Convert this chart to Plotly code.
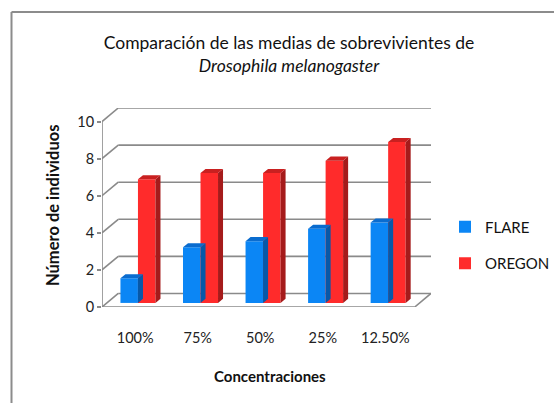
import plotly.graph_objects as go

categories = ["100%", "75%", "50%", "25%", "12.50%"]
flare = [1.33, 3.0, 3.33, 4.0, 4.33]
oregon = [6.67, 7.0, 7.0, 7.67, 8.67]
y_ticks = [0, 2, 4, 6, 8, 10]

# layout constants (pixels)
W, H = 554, 403
L, R, T, B = 102, 123, 108, 96
DX, DY = 0.26, 0.73        # depth of the 3D box in data units
BDX, BDY = 0.08, 0.22      # depth of each bar
BOFF_X, BOFF_Y = 0.075, 0.22  # bars' front plane offset
BW = 0.28

BLUE, BLUE_TOP, BLUE_SIDE = "#0B86F5", "#0A6CCF", "#0758A8"
RED, RED_TOP, RED_SIDE = "#FF2B2B", "#C92020", "#A51B1B"
GRID = "#8a8a8a"
FONT = "Lato"

fig = go.Figure()

def faces(vals, shift):
    sx, sy, tx, ty = [], [], [], []
    for i, v in enumerate(vals):
        xl = i + shift - BW / 2 + BOFF_X
        xr = xl + BW
        b = BOFF_Y
        t = b + v
        sx += [xr, xr, xr + BDX, xr + BDX, xr, None]
        sy += [b, t, t + BDY, b + BDY, b, None]
        tx += [xl, xr, xr + BDX, xl + BDX, xl, None]
        ty += [t, t, t + BDY, t + BDY, t, None]
    return sx, sy, tx, ty

for vals, shift, top, side in [(flare, -0.14, BLUE_TOP, BLUE_SIDE), (oregon, 0.14, RED_TOP, RED_SIDE)]:
    sx, sy, tx, ty = faces(vals, shift)
    fig.add_trace(go.Scatter(x=sx, y=sy, fill="toself", fillcolor=side, mode="lines",
                             line=dict(width=0, color=side), showlegend=False, hoverinfo="skip"))
    fig.add_trace(go.Scatter(x=tx, y=ty, fill="toself", fillcolor=top, mode="lines",
                             line=dict(width=0, color=top), showlegend=False, hoverinfo="skip"))

xs = list(range(len(categories)))
fig.add_trace(go.Bar(x=[i - 0.14 + BOFF_X for i in xs], y=flare, base=BOFF_Y, width=BW,
                     marker=dict(color=BLUE, line=dict(width=0)), name="FLARE", legendgroup="a"))
fig.add_trace(go.Bar(x=[i + 0.14 + BOFF_X for i in xs], y=oregon, base=BOFF_Y, width=BW,
                     marker=dict(color=RED, line=dict(width=0)), name="OREGON", legendgroup="b"))

x0, x1 = -0.5, len(categories) - 0.5
shapes = []
for k in y_ticks:
    shapes.append(dict(type="line", xref="x", yref="y", x0=x0 + DX, x1=x1 + DX, y0=k + DY, y1=k + DY,
                       line=dict(color=GRID, width=1.6), layer="below"))
    shapes.append(dict(type="line", xref="x", yref="y", x0=x0, x1=x0 + DX, y0=k, y1=k + DY,
                       line=dict(color=GRID, width=1.6), layer="below"))
shapes.append(dict(type="line", xref="x", yref="y", x0=x0, x1=x1, y0=0, y1=0,
                   line=dict(color=GRID, width=1.6), layer="below"))
shapes.append(dict(type="line", xref="x", yref="y", x0=x1, x1=x1 + DX, y0=0, y1=DY,
                   line=dict(color=GRID, width=1.6), layer="below"))
shapes.append(dict(type="line", xref="x", yref="y", x0=x0, x1=x0, y0=0, y1=10,
                   line=dict(color=GRID, width=1.6), layer="below"))
# outer chart border (left and top, the rest lies outside the picture)
pw, ph = W - L - R, H - T - B
bx = (11.5 - L) / pw
by = 1 + (T - 12) / ph
shapes.append(dict(type="line", xref="paper", yref="paper", x0=bx, x1=bx,
                   y0=by, y1=-(B + 20) / ph,
                   line=dict(color="#8c8c8c", width=2), layer="above"))
shapes.append(dict(type="line", xref="paper", yref="paper", x0=bx, x1=(W + 20 - L) / pw,
                   y0=by, y1=by,
                   line=dict(color="#8c8c8c", width=2), layer="above"))

annotations = [
    dict(text="<b>Número de individuos</b>", xref="paper", yref="paper",
         x=(53 - L) / pw, y=1 - (206 - T) / ph, xanchor="center", yanchor="middle",
         textangle=-90, showarrow=False,
         font=dict(family=FONT, size=16.5, color="#111")),
    dict(text="<b>Concentraciones</b>", xref="paper", yref="paper",
         x=(270 - L) / pw, y=1 - (376 - T) / ph, xanchor="center", yanchor="middle",
         showarrow=False,
         font=dict(family=FONT, size=15, color="#111")),
]

fig.update_layout(
    width=W, height=H, autosize=False, margin=dict(l=L, r=R, t=T, b=B, autoexpand=False),
    paper_bgcolor="white", plot_bgcolor="white",
    barmode="overlay",
    title=dict(text="Comparación de las medias de sobrevivientes de<br><i>Drosophila melanogaster</i>",
               x=289 / W, xanchor="center", y=1 - 49 / H, yanchor="top",
               font=dict(family=FONT, size=17.5, color="#111")),
    xaxis=dict(range=[x0, x1 + DX], tickvals=[i + 0.03 for i in xs], ticktext=categories,
               showgrid=False, zeroline=False, showline=False, ticks="", ticklabelstandoff=20,
               automargin=False,
               tickfont=dict(family=FONT, size=14.5, color="#222"), fixedrange=True),
    yaxis=dict(range=[0, 10 + DY], tickvals=y_ticks, showgrid=False, zeroline=False, showline=False,
               ticks="outside", ticklen=4, tickcolor=GRID, tickwidth=1.5, automargin=False,
               tickfont=dict(family=FONT, size=14.5, color="#222"), fixedrange=True),
    legend=dict(xref="container", yref="container", x=445 / W, xanchor="left",
                y=1 - 210.5 / H, yanchor="top",
                font=dict(family=FONT, size=15, color="#111"), tracegroupgap=14,
                itemwidth=30, bgcolor="rgba(0,0,0,0)"),
    shapes=shapes, annotations=annotations,
)

fig.write_html("out.html", config={"displayModeBar": False},
               post_script="document.body.style.margin='0';")
